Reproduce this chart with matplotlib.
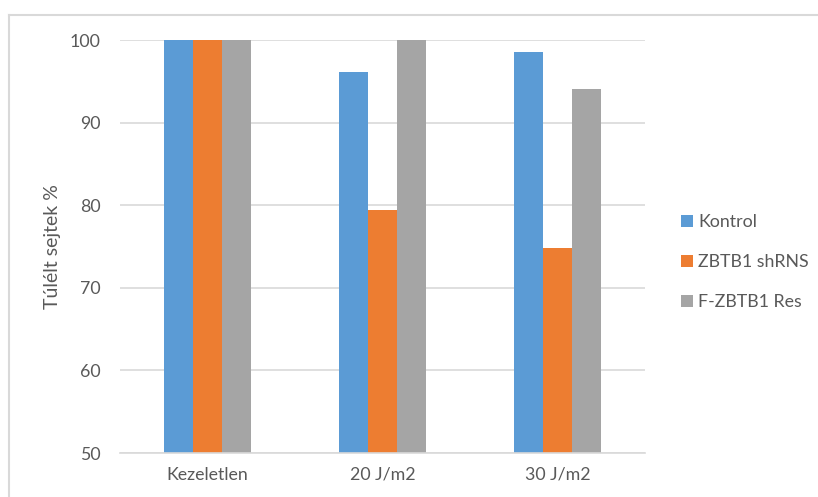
import matplotlib
matplotlib.use("Agg")
import matplotlib.pyplot as plt
from matplotlib.lines import Line2D
import numpy as np

plt.rcParams['font.family'] = ['Lato', 'DejaVu Sans']

categories = ['Kezeletlen', '20 J/m2', '30 J/m2']
series = ['Kontrol', 'ZBTB1 shRNS', 'F-ZBTB1 Res']
kontrol = [100, 96.1, 98.5]
shrns = [100, 79.4, 74.8]
res = [100, 100, 94.1]
colors = ['#5B9BD5', '#ED7D31', '#A5A5A5']
text_color = '#595959'
grid_color = '#D9D9D9'

fig = plt.figure(figsize=(8.18, 4.97), dpi=100)
ax = fig.add_axes([0.1467, 0.0885, 0.6418, 0.831])

x = np.arange(len(categories))
w = 0.167
bars = []
for i, (vals, c) in enumerate(zip([kontrol, shrns, res], colors)):
    b = ax.bar(x + (i - 1) * w, np.array(vals) - 50, width=w, bottom=50,
               color=c, label=series[i], zorder=2)
    bars.append(b)

ax.set_xlim(-0.5, 2.5)
ax.set_ylim(50, 100)
ax.set_yticks(range(50, 101, 10))
ax.set_xticks(x)
ax.set_xticklabels(categories)
ax.yaxis.grid(True, color=grid_color, linewidth=1.2, zorder=0)
ax.set_axisbelow(True)
for s in ['top', 'right', 'left']:
    ax.spines[s].set_visible(False)
ax.spines['bottom'].set_color(grid_color)
ax.spines['bottom'].set_linewidth(1.2)
ax.tick_params(axis='both', length=0, colors=text_color, labelsize=12.8)
ax.tick_params(axis='y', pad=14)
ax.tick_params(axis='x', pad=10)

ax.set_ylabel('Túlélt sejtek %', color=text_color, fontsize=14)
ax.yaxis.set_label_coords(-0.113, 0.5)

ax.legend(handles=[b[0] for b in bars], labels=series, frameon=False,
          loc='center left', bbox_to_anchor=(0.813, 0.473),
          bbox_transform=fig.transFigure, fontsize=12.8,
          handlelength=0.65, handleheight=0.65, handletextpad=0.3,
          labelspacing=1.35, labelcolor=text_color)

# chart frame (left and top edges only)
fig.add_artist(Line2D([0.0106, 0.0106], [0, 0.970], color=grid_color,
                      linewidth=1.5, transform=fig.transFigure))
fig.add_artist(Line2D([0.0106, 1.0], [0.970, 0.970], color=grid_color,
                      linewidth=1.5, transform=fig.transFigure))

fig.savefig('out.png', dpi=100, facecolor='white')
